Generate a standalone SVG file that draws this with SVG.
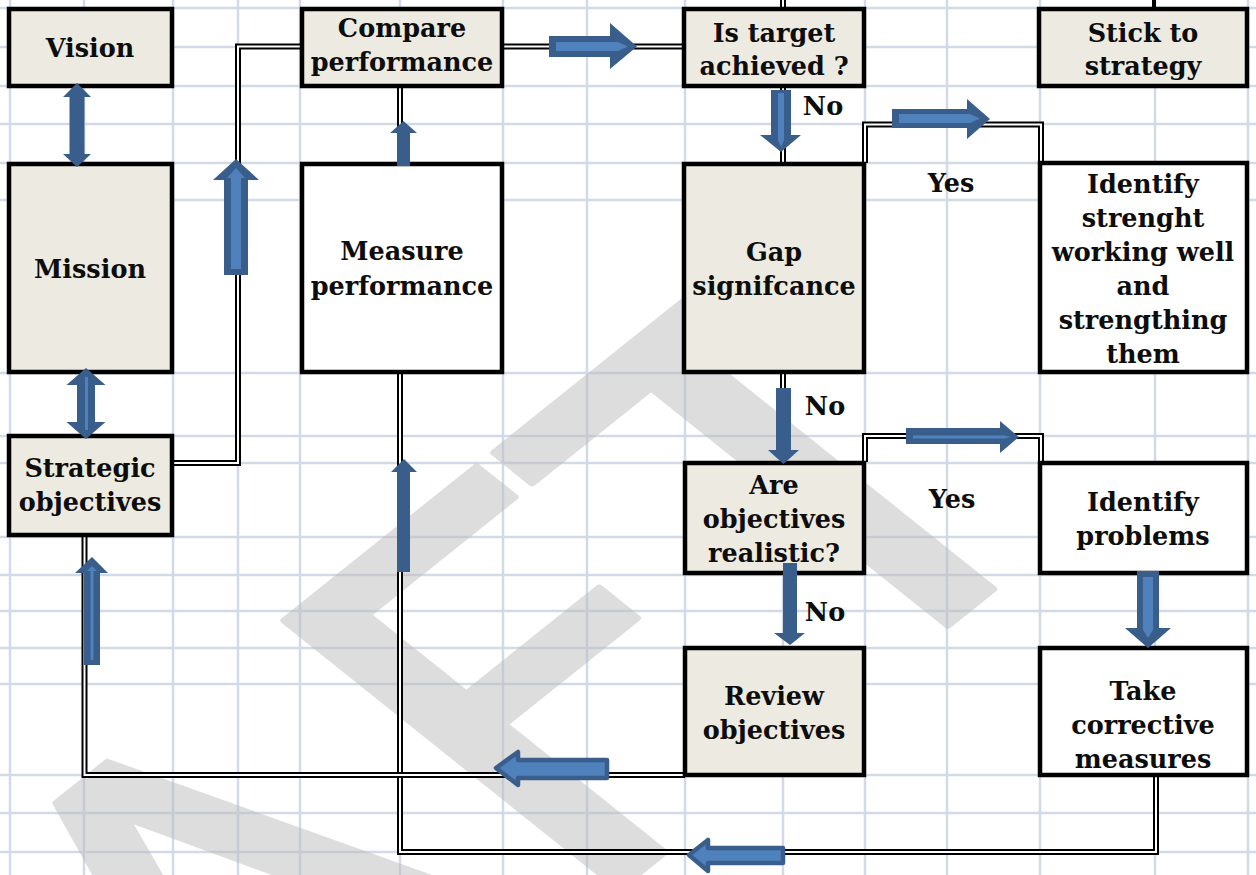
<svg xmlns="http://www.w3.org/2000/svg" width="1256" height="875" viewBox="0 0 1256 875">
<style>
.grid line{stroke:#d3dae7;stroke-width:2.5}
.box{stroke:#000;stroke-width:4.5}
.beige{fill:#edebe1}
.white{fill:#fff}
.t{font-family:"DejaVu Serif","Liberation Serif",serif;font-weight:bold;font-size:25.5px;fill:#0d0d0d;text-anchor:middle}
.dbl-o{fill:none;stroke:#000;stroke-width:6;stroke-linejoin:miter}
.dbl-i{fill:none;stroke:#fff;stroke-width:2;stroke-linejoin:miter}
.ad{fill:#3a5e8c}
.al{fill:#4f81bd}
.ar{fill:#4f81bd;stroke:#3a5e8c;stroke-width:4.5;stroke-linejoin:round}
.wm{font-family:"DejaVu Sans",sans-serif;font-size:520px;fill:#bdbdbd;opacity:0.5;stroke:#bdbdbd;stroke-width:6;stroke-linejoin:round}
</style>
<rect width="1256" height="875" fill="#fff"/>
<g class="grid">
<line x1="10" y1="0" x2="10" y2="875"/><line x1="84" y1="0" x2="84" y2="875"/><line x1="173" y1="0" x2="173" y2="875"/><line x1="238" y1="0" x2="238" y2="875"/><line x1="300" y1="0" x2="300" y2="875"/><line x1="400" y1="0" x2="400" y2="875"/><line x1="503" y1="0" x2="503" y2="875"/><line x1="587" y1="0" x2="587" y2="875"/><line x1="685" y1="0" x2="685" y2="875"/><line x1="783" y1="0" x2="783" y2="875"/><line x1="865" y1="0" x2="865" y2="875"/><line x1="947" y1="0" x2="947" y2="875"/><line x1="1040" y1="0" x2="1040" y2="875"/><line x1="1155" y1="0" x2="1155" y2="875"/><line x1="1248" y1="0" x2="1248" y2="875"/>
<line x1="0" y1="8" x2="1256" y2="8"/><line x1="0" y1="47" x2="1256" y2="47"/><line x1="0" y1="86" x2="1256" y2="86"/><line x1="0" y1="124" x2="1256" y2="124"/><line x1="0" y1="163" x2="1256" y2="163"/><line x1="0" y1="200" x2="1256" y2="200"/><line x1="0" y1="373" x2="1256" y2="373"/><line x1="0" y1="436" x2="1256" y2="436"/><line x1="0" y1="463" x2="1256" y2="463"/><line x1="0" y1="537" x2="1256" y2="537"/><line x1="0" y1="575" x2="1256" y2="575"/><line x1="0" y1="611" x2="1256" y2="611"/><line x1="0" y1="648" x2="1256" y2="648"/><line x1="0" y1="684" x2="1256" y2="684"/><line x1="0" y1="775" x2="1256" y2="775"/><line x1="0" y1="813" x2="1256" y2="813"/><line x1="0" y1="852" x2="1256" y2="852"/>
</g>
<text class="wm" x="0" y="0" transform="translate(-395,1700) scale(1.25,1) rotate(-45)">DRAFT</text>
<g id="connectors">
<path class="dbl-o" d="M172,463 H238 V46.5 H301"/><path class="dbl-i" d="M172,463 H238 V46.5 H301"/>
<path class="dbl-o" d="M503,46.5 H684"/><path class="dbl-i" d="M503,46.5 H684"/>
<path class="dbl-o" d="M400,86 V163"/><path class="dbl-i" d="M400,86 V163"/>
<path class="dbl-o" d="M400,373 V852 H1156 V775"/><path class="dbl-i" d="M400,373 V852 H1156 V775"/>
<path class="dbl-o" d="M84.5,535 V775 H685"/><path class="dbl-i" d="M84.5,535 V775 H685"/>
<path class="dbl-o" d="M783,0 V8"/><path class="dbl-i" d="M783,0 V8"/>
<path class="dbl-o" d="M783,86 V163"/><path class="dbl-i" d="M783,86 V163"/>
<path class="dbl-o" d="M865,163 V124.5 H1041 V163"/><path class="dbl-i" d="M865,163 V124.5 H1041 V163"/>
<path class="dbl-o" d="M783,373 V462"/><path class="dbl-i" d="M783,373 V462"/>
<path class="dbl-o" d="M865,462 V436 H1041 V462"/><path class="dbl-i" d="M865,462 V436 H1041 V462"/>
<line x1="1154" y1="0" x2="1154" y2="9" stroke="#000" stroke-width="4"/>
</g>
<g id="vision"><rect class="box beige" x="9" y="9" width="163" height="77"/><text class="t" x="90" y="57">Vision</text></g>
<g id="mission"><rect class="box beige" x="9" y="164" width="163" height="208"/><text class="t" x="90" y="278">Mission</text></g>
<g id="strategic-objectives"><rect class="box beige" x="9" y="436" width="163" height="99"/><text class="t" x="90" y="477">Strategic</text><text class="t" x="90" y="511">objectives</text></g>
<g id="compare-performance"><rect class="box beige" x="302" y="9" width="200" height="77"/><text class="t" x="402" y="37">Compare</text><text class="t" x="402" y="71">performance</text></g>
<g id="measure-performance"><rect class="box white" x="302" y="164" width="200" height="208"/><text class="t" x="402" y="260">Measure</text><text class="t" x="402" y="295">performance</text></g>
<g id="is-target-achieved"><rect class="box beige" x="684" y="9" width="180" height="77"/><text class="t" x="774" y="42">Is target</text><text class="t" x="774" y="75">achieved ?</text></g>
<g id="stick-to-strategy"><rect class="box beige" x="1039" y="9" width="208" height="77"/><text class="t" x="1143" y="42">Stick to</text><text class="t" x="1143" y="75">strategy</text></g>
<g id="gap-significance"><rect class="box beige" x="684" y="164" width="180" height="208"/><text class="t" x="774" y="261">Gap</text><text class="t" x="774" y="295">signifcance</text></g>
<g id="identify-strength"><rect class="box white" x="1040" y="163" width="207" height="209"/><text class="t" x="1143" y="193">Identify</text><text class="t" x="1143" y="227">strenght</text><text class="t" x="1143" y="261">working well</text><text class="t" x="1143" y="295">and</text><text class="t" x="1143" y="329">strengthing</text><text class="t" x="1143" y="363">them</text></g>
<g id="are-objectives-realistic"><rect class="box beige" x="685" y="463" width="179" height="110"/><text class="t" x="774" y="494">Are</text><text class="t" x="774" y="528">objectives</text><text class="t" x="774" y="562">realistic?</text></g>
<g id="identify-problems"><rect class="box white" x="1040" y="463" width="207" height="110"/><text class="t" x="1143" y="511">Identify</text><text class="t" x="1143" y="545">problems</text></g>
<g id="review-objectives"><rect class="box beige" x="685" y="648" width="179" height="127"/><text class="t" x="774" y="705">Review</text><text class="t" x="774" y="739">objectives</text></g>
<g id="take-corrective-measures"><rect class="box white" x="1040" y="648" width="207" height="127"/><text class="t" x="1143" y="700">Take</text><text class="t" x="1143" y="734">corrective</text><text class="t" x="1143" y="768">measures</text></g>
<g id="arrows">
<polygon class="ad" points="77,83 91,97 84.5,97 84.5,154 91,154 77,167 63,154 69.5,154 69.5,97 63,97"/>
<polygon class="ad" points="86,368 105.5,385 95,385 95,422 105.5,422 86,439 66.5,422 77,422 77,385 66.5,385"/>
<rect class="al" x="85" y="377" width="3" height="53"/>
<polygon class="ad" points="236,159 259,180 248,180 248,275 224,275 224,180 213,180"/>
<polygon class="al" points="236,168 245,178 241,178 241,269 231,269 231,178 227,178"/>
<polygon class="ad" points="403.5,121 417,133 410,133 410,166 397,166 397,133 390,133"/>
<polygon class="ad" points="549,36 610,36 610,23 637,46.5 610,69 610,57 549,57"/>
<polygon class="al" points="556,42 618,42 628,46.5 618,51 556,51"/>
<polygon class="ad" points="771,90 791,90 791,135 801,135 781,152 760,135 771,135"/>
<polygon class="al" points="778,93 784,93 784,140 781,147 778,140"/>
<polygon class="ad" points="892,109 967,109 967,99 990,119 967,139 967,128 892,128"/>
<polygon class="al" points="899,114 970,114 980,118.5 970,123 899,123"/>
<polygon class="ad" points="776,388 791,388 791,450 799,450 783.5,464 768,450 776,450"/>
<polygon class="ad" points="906,428 1000,428 1000,421 1019,437 1000,453 1000,444 906,444"/>
<polygon class="al" points="913,435.5 1004,435.5 1011,437 1004,438.5 913,438.5"/>
<polygon class="ad" points="783,563 797,563 797,633 805,633 790,645 774,633 783,633"/>
<polygon class="ad" points="1137,571 1159,571 1159,628 1171,628 1148,648 1125,628 1137,628"/>
<polygon class="al" points="1143,577 1153,577 1153,630 1148,638 1143,630"/>
<polygon class="ad" points="92,557 108,573 100,573 100,665 84,665 84,573 75,573"/>
<polygon class="al" points="92,566 97,571 93.5,571 93.5,660 90.5,660 90.5,571 87,571"/>
<polygon class="ad" points="404,459 417,472 410,472 410,572 397,572 397,472 391,472"/>
<polygon class="ar" points="496,768 518,752 518,760 607,760 607,778 518,778 518,785"/>
<polygon class="ar" points="689,855 708,840 708,848 783,848 783,863 708,863 708,871"/>
</g>
<g id="labels">
<text class="t" x="823" y="115">No</text>
<text class="t" x="951" y="192">Yes</text>
<text class="t" x="825" y="415">No</text>
<text class="t" x="952" y="508">Yes</text>
<text class="t" x="825" y="621">No</text>
</g>
</svg>
